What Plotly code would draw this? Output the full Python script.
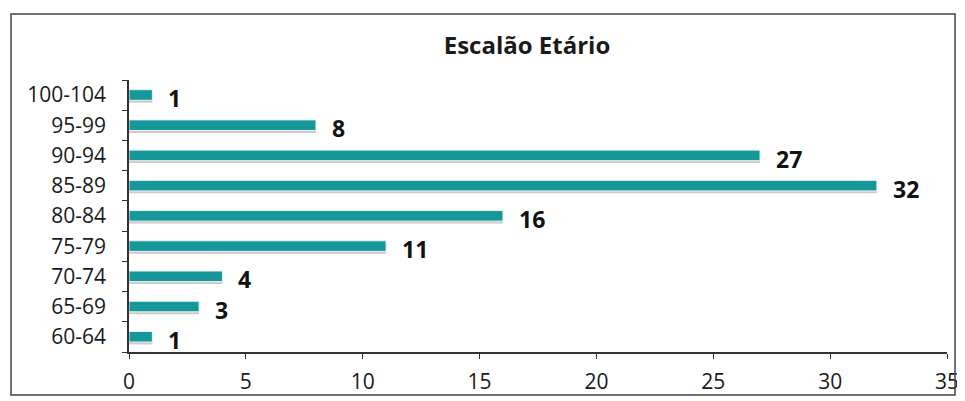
import plotly.graph_objects as go

categories = ["60-64", "65-69", "70-74", "75-79", "80-84", "85-89", "90-94", "95-99", "100-104"]
counts = [1, 3, 4, 11, 16, 32, 27, 8, 1]
x_ticks = [0, 5, 10, 15, 20, 25, 30, 35]
title_text = "Escalão Etário"

TEAL = "#16979a"
FONT = "Open Sans"

# page body adds an 8px offset; figure is sized to compensate
W, H = 957, 393
L, R, T, B = 121, 18, 72, 49
PW, PH = W - L - R, H - T - B

fig = go.Figure()
# soft shadow under each bar
fig.add_trace(go.Bar(
    y=categories, x=counts, orientation="h",
    marker=dict(color="rgba(140,120,120,0.40)", line=dict(width=0)),
    width=0.36, offset=-0.25, hoverinfo="skip", showlegend=False,
))
fig.add_trace(go.Bar(
    y=categories, x=counts, orientation="h",
    marker=dict(color=TEAL, line=dict(color="#e8f4f4", width=1)),
    width=0.35, offset=-0.17, showlegend=False,
))

for c, v in zip(categories, counts):
    fig.add_annotation(
        x=v, y=c, text=f"<b>{v}</b>", showarrow=False,
        xanchor="left", yanchor="middle", xshift=14, yshift=-3,
        font=dict(family=FONT, size=23, color="#111111"),
    )

fig.update_layout(
    width=W, height=H,
    margin=dict(l=L, r=R, t=T, b=B),
    paper_bgcolor="white", plot_bgcolor="white",
    barmode="overlay",
    title=dict(text=f"<b>{title_text}</b>", x=519 / W, xanchor="center",
               y=1 - 38 / H, yanchor="middle", yref="container",
               font=dict(family=FONT, size=24, color="#1a1a1a")),
    font=dict(family=FONT, size=21, color="#1a1a1a"),
    xaxis=dict(range=[0, 35], tickvals=x_ticks, showgrid=False, zeroline=False,
               automargin=False,
               showline=True, linecolor="#333333", linewidth=1.5,
               ticks="outside", ticklen=5, tickcolor="#333333",
               ticklabelstandoff=5, tickfont=dict(size=21)),
    yaxis=dict(type="category", categoryorder="array", categoryarray=categories,
               range=[-0.5, len(categories) - 0.5], automargin=False,
               showgrid=False, zeroline=False, showline=True,
               linecolor="#333333", linewidth=1.5, ticks="outside", ticklen=5,
               tickcolor="#333333", tickson="boundaries",
               ticklabelstandoff=17, tickfont=dict(size=21)),
    shapes=[dict(type="rect", xref="paper", yref="paper",
                 x0=(3 - L) / PW, x1=(947 - L) / PW,
                 y0=(T + PH - 387) / PH, y1=(T + PH - 6) / PH,
                 line=dict(color="#444444", width=1.5), fillcolor="rgba(0,0,0,0)")],
)

fig.write_html("out.html")
